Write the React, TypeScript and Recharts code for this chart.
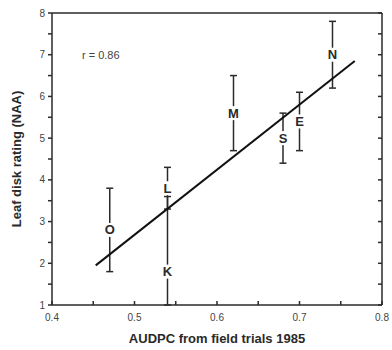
import React from "react";
import {
  ComposedChart,
  Scatter,
  XAxis,
  YAxis,
  ErrorBar,
  Label,
} from "recharts";

// cultivars, field AUDPC (x) and leaf disk rating (y)
const cultivars = ["O", "L", "K", "M", "S", "E", "N"];
const audpc = [0.47, 0.54, 0.54, 0.62, 0.68, 0.7, 0.74];
const rating = [2.8, 3.8, 1.8, 5.6, 5.0, 5.4, 7.0];
const errBelow = [1.0, 0.5, 0.8, 0.9, 0.6, 0.7, 0.8];
const errAbove = [1.0, 0.5, 1.8, 0.9, 0.6, 0.7, 0.8];

// regression line end points
const fitX = [0.453, 0.767];
const fitY = [1.95, 6.85];

const xTicks = [0.4, 0.45, 0.5, 0.55, 0.6, 0.65, 0.7, 0.75, 0.8];
const xLabels = ["0.4", "0.5", "0.6", "0.7", "0.8"];
const yTicks = [1, 1.5, 2, 2.5, 3, 3.5, 4, 4.5, 5, 5.5, 6, 6.5, 7, 7.5, 8];

const points = cultivars.map((c, i) => ({
  name: c,
  x: audpc[i],
  y: rating[i],
  err: [errBelow[i], errAbove[i]],
}));
const fit = fitX.map((x, i) => ({ x, y: fitY[i] }));

const ink = "#2a2a2a";
const font = "'Liberation Sans', Arial, sans-serif";

const LetterDot = (props: any) => {
  const { cx, cy, payload } = props;
  return (
    <g>
      <rect x={cx - 6} y={cy - 7} width={12} height={14} fill="#fff" />
      <text
        x={cx}
        y={cy + 4.5}
        textAnchor="middle"
        style={{ fontSize: 13, fontWeight: "bold", fontFamily: font }}
        fill={ink}
      >
        {payload.name}
      </text>
    </g>
  );
};

const fmtX = (v: number) => {
  const s = v.toFixed(1);
  return xLabels.includes(s) && Math.abs(v * 10 - Math.round(v * 10)) < 1e-6 ? s : "";
};
const fmtY = (v: number) => (Number.isInteger(v) ? String(v) : "");

export default function App() {
  const tickStyle = { fontSize: 10, fill: "#444", fontFamily: font };
  return (
    <div style={{ position: "absolute", left: 0, top: 0, background: "#fff" }}>
      <ComposedChart
        width={392}
        height={350}
        margin={{ top: 12, right: 9, bottom: 0, left: 0 }}
      >
        <XAxis
          type="number"
          dataKey="x"
          domain={[0.4, 0.8]}
          ticks={xTicks}
          tickFormatter={fmtX}
          allowDataOverflow
          height={45}
          tickSize={-4}
          tickMargin={13}
          tick={tickStyle}
          stroke={ink}
          strokeWidth={1.5}
          interval={0}
        >
          <Label
            value="AUDPC from field trials 1985"
            position="insideBottom"
            offset={7}
            style={{ fontSize: 13, fontWeight: "bold", fill: ink, fontFamily: font }}
          />
        </XAxis>
        <XAxis
          xAxisId="top"
          orientation="top"
          type="number"
          domain={[0.4, 0.8]}
          ticks={xTicks}
          tickFormatter={() => ""}
          allowDataOverflow
          height={1}
          tickSize={-4}
          stroke={ink}
          strokeWidth={1.5}
          interval={0}
        />
        <YAxis
          type="number"
          dataKey="y"
          domain={[1, 8]}
          ticks={yTicks}
          tickFormatter={fmtY}
          allowDataOverflow
          width={52}
          tickSize={4}
          tickMargin={3}
          tick={tickStyle}
          stroke={ink}
          strokeWidth={1.5}
          interval={0}
        >
          <Label
            value="Leaf disk rating (NAA)"
            angle={-90}
            position="insideLeft"
            offset={16}
            style={{ textAnchor: "middle", fontSize: 13, fontWeight: "bold", fill: ink, fontFamily: font }}
          />
        </YAxis>
        <YAxis
          yAxisId="right"
          orientation="right"
          type="number"
          domain={[1, 8]}
          ticks={yTicks}
          tickFormatter={() => ""}
          allowDataOverflow
          width={1}
          tickSize={-4}
          stroke={ink}
          strokeWidth={1.5}
          interval={0}
        />
        <Scatter
          data={fit}
          line={{ stroke: "#111", strokeWidth: 2 }}
          shape={() => <g />}
          isAnimationActive={false}
        />
        <Scatter data={points} shape={<LetterDot />} isAnimationActive={false}>
          <ErrorBar dataKey="err" direction="y" width={3.5} stroke={ink} strokeWidth={1.5} />
        </Scatter>
        <text x={82} y={59} textAnchor="start" style={{ fontSize: 11, fill: "#444", fontFamily: font }}>
          r = 0.86
        </text>
      </ComposedChart>
    </div>
  );
}
